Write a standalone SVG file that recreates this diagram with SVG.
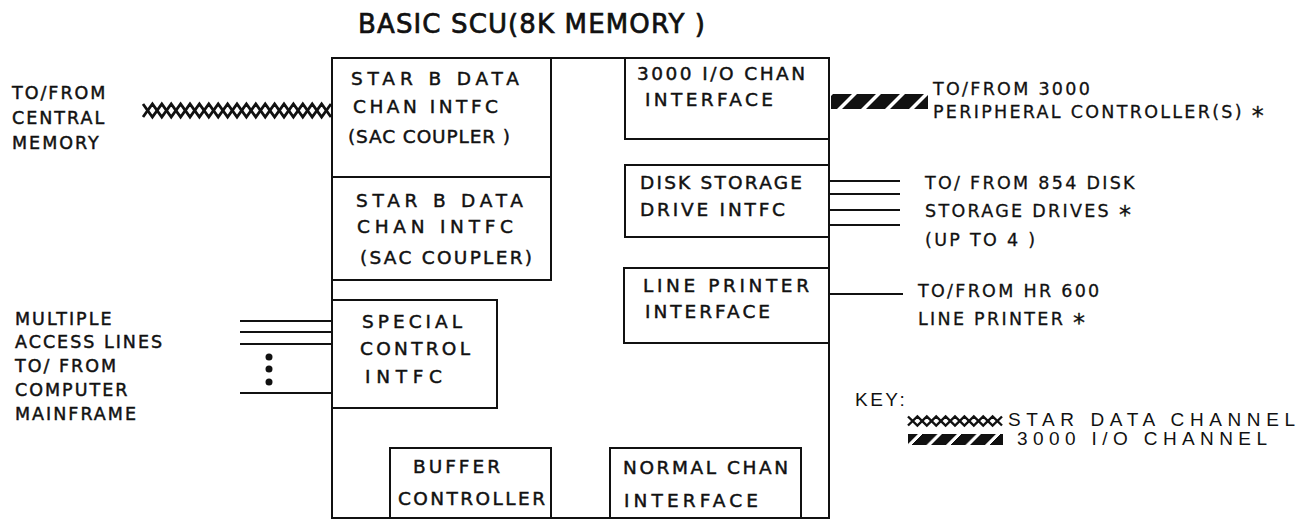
<svg xmlns="http://www.w3.org/2000/svg" width="1309" height="523" viewBox="0 0 1309 523">
<style>
  .box{fill:none;stroke:#111;stroke-width:2}
  .t{font-family:"DejaVu Sans","Liberation Sans",sans-serif;font-size:18.5px;fill:#111;stroke:#111;stroke-width:0.45}
  .ttl{font-size:26px;stroke-width:0.7}
  .lbl{font-family:"DejaVu Sans","Liberation Sans",sans-serif;font-size:17.5px;fill:#111;stroke:#111;stroke-width:0.45;letter-spacing:2px}
  .rl{font-family:"DejaVu Sans","Liberation Sans",sans-serif;font-size:17.5px;fill:#111;stroke:#111;stroke-width:0.3;letter-spacing:2.3px}
  .key{font-family:"Liberation Sans","DejaVu Sans",sans-serif;font-size:19px;fill:#111}
  .ln{stroke:#111;stroke-width:2;fill:none}
  .xh{stroke:#111;stroke-width:2.8;fill:none;stroke-linejoin:miter}
  .ast{font-size:24px}
</style>
<defs>
  <pattern id="hatchA" width="24" height="60" patternUnits="userSpaceOnUse" patternTransform="translate(831 0) skewX(-45)">
    <rect x="0" y="0" width="19" height="60" fill="#111"/>
  </pattern>
  <pattern id="hatchB" width="19.5" height="60" patternUnits="userSpaceOnUse" patternTransform="translate(908 0) skewX(-45)">
    <rect x="0" y="0" width="15" height="60" fill="#111"/>
  </pattern>
</defs>

<text class="t ttl" x="358" y="33" textLength="347" lengthAdjust="spacing">BASIC SCU(8K MEMORY )</text>

<g id="scu">
  <rect class="box" x="332" y="58" width="497" height="460"/>
</g>

<g id="starb1">
  <rect class="box" x="332" y="58" width="219" height="119"/>
  <text class="t" x="351" y="85" textLength="168" lengthAdjust="spacing">STAR B DATA</text>
  <text class="t" x="353" y="113" textLength="145" lengthAdjust="spacing">CHAN INTFC</text>
  <text class="t" x="348" y="143" textLength="162" lengthAdjust="spacing">(SAC COUPLER )</text>
</g>

<g id="starb2">
  <rect class="box" x="332" y="177" width="219" height="103"/>
  <text class="t" x="356" y="207" textLength="167" lengthAdjust="spacing">STAR B DATA</text>
  <text class="t" x="357" y="233" textLength="156" lengthAdjust="spacing">CHAN INTFC</text>
  <text class="t" x="360" y="264" textLength="172" lengthAdjust="spacing">(SAC COUPLER)</text>
</g>

<g id="io3000">
  <rect class="box" x="625" y="58" width="204" height="81"/>
  <text class="t" x="637" y="80" textLength="168" lengthAdjust="spacing">3000 I/O CHAN</text>
  <text class="t" x="645" y="106" textLength="128" lengthAdjust="spacing">INTERFACE</text>
</g>

<g id="disk">
  <rect class="box" x="625" y="165" width="204" height="72"/>
  <text class="t" x="640" y="189" textLength="162" lengthAdjust="spacing">DISK STORAGE</text>
  <text class="t" x="640" y="216" textLength="145" lengthAdjust="spacing">DRIVE INTFC</text>
</g>

<g id="printer">
  <rect class="box" x="624" y="268" width="205" height="75"/>
  <text class="t" x="643" y="292" textLength="166" lengthAdjust="spacing">LINE PRINTER</text>
  <text class="t" x="645" y="318" textLength="125" lengthAdjust="spacing">INTERFACE</text>
</g>

<g id="special">
  <rect class="box" x="332" y="300" width="165" height="108"/>
  <text class="t" x="362" y="328" textLength="100" lengthAdjust="spacing">SPECIAL</text>
  <text class="t" x="360" y="355" textLength="110" lengthAdjust="spacing">CONTROL</text>
  <text class="t" x="365" y="383" textLength="77" lengthAdjust="spacing">INTFC</text>
</g>

<g id="buffer">
  <rect class="box" x="390" y="448" width="161" height="70"/>
  <text class="t" x="413" y="473" textLength="87" lengthAdjust="spacing">BUFFER</text>
  <text class="t" x="398" y="505" textLength="147" lengthAdjust="spacing">CONTROLLER</text>
</g>

<g id="normal">
  <rect class="box" x="610" y="448" width="191" height="70"/>
  <text class="t" x="623" y="474" textLength="165" lengthAdjust="spacing">NORMAL CHAN</text>
  <text class="t" x="624" y="507" textLength="134" lengthAdjust="spacing">INTERFACE</text>
</g>

<g id="central-memory">
  <text class="lbl" x="12" y="99">TO/FROM</text>
  <text class="lbl" x="12" y="124">CENTRAL</text>
  <text class="lbl" x="12" y="149">MEMORY</text>
</g>

<g id="mainframe">
  <text class="lbl" x="15" y="325">MULTIPLE</text>
  <text class="lbl" x="15" y="348">ACCESS LINES</text>
  <text class="lbl" x="15" y="372">TO/ FROM</text>
  <text class="lbl" x="15" y="396">COMPUTER</text>
  <text class="lbl" x="15" y="420">MAINFRAME</text>
</g>

<g id="peripheral">
  <text class="rl" x="933" y="95">TO/FROM 3000</text>
  <text class="rl" x="933" y="118">PERIPHERAL CONTROLLER(S) <tspan class="ast" dy="6">*</tspan></text>
</g>

<g id="disk-drives">
  <text class="rl" x="925" y="189">TO/ FROM 854 DISK</text>
  <text class="rl" x="925" y="217">STORAGE DRIVES <tspan class="ast" dy="6">*</tspan></text>
  <text class="rl" x="925" y="246">(UP TO 4 )</text>
</g>

<g id="line-printer">
  <text class="rl" x="918" y="297">TO/FROM HR 600</text>
  <text class="rl" x="918" y="325">LINE PRINTER <tspan class="ast" dy="6">*</tspan></text>
</g>

<g id="connectors">
  <polyline class="xh" points="143,104 152.4,117 161.8,104 171.2,117 180.6,104 190,117 199.4,104 208.8,117 218.2,104 227.6,117 237,104 246.4,117 255.8,104 265.2,117 274.6,104 284,117 293.4,104 302.8,117 312.2,104 321.6,117 331,104"/>
  <polyline class="xh" points="143,117 152.4,104 161.8,117 171.2,104 180.6,117 190,104 199.4,117 208.8,104 218.2,117 227.6,104 237,117 246.4,104 255.8,117 265.2,104 274.6,117 284,104 293.4,117 302.8,104 312.2,117 321.6,104 331,117"/>
  <rect x="831" y="94" width="97" height="15" fill="url(#hatchA)"/>
  <line class="ln" x1="829" y1="181" x2="900" y2="181"/>
  <line class="ln" x1="829" y1="194" x2="900" y2="194"/>
  <line class="ln" x1="829" y1="210" x2="900" y2="210"/>
  <line class="ln" x1="829" y1="225" x2="900" y2="225"/>
  <line class="ln" x1="829" y1="294" x2="903" y2="294"/>
  <line class="ln" x1="240" y1="321" x2="332" y2="321"/>
  <line class="ln" x1="240" y1="332" x2="332" y2="332"/>
  <line class="ln" x1="240" y1="344" x2="332" y2="344"/>
  <line class="ln" x1="240" y1="393" x2="332" y2="393"/>
  <circle cx="269" cy="357" r="3.5" fill="#111"/>
  <circle cx="269" cy="369" r="3.5" fill="#111"/>
  <circle cx="269" cy="382" r="3.5" fill="#111"/>
</g>

<g id="key">
  <text class="key" x="855" y="406" letter-spacing="2.5">KEY:</text>
  <polyline class="xh" style="stroke-width:2.4" points="908,416.5 917.4,425.5 926.8,416.5 936.2,425.5 945.6,416.5 955,425.5 964.4,416.5 973.8,425.5 983.2,416.5 992.6,425.5 1002,416.5"/>
  <polyline class="xh" style="stroke-width:2.4" points="908,425.5 917.4,416.5 926.8,425.5 936.2,416.5 945.6,425.5 955,416.5 964.4,425.5 973.8,416.5 983.2,425.5 992.6,416.5 1002,425.5"/>
  <text class="key" x="1008" y="426" textLength="287" lengthAdjust="spacing">STAR DATA CHANNEL</text>
  <rect x="908" y="434" width="95" height="11" fill="url(#hatchB)"/>
  <text class="key" x="1017" y="445" textLength="250" lengthAdjust="spacing">3000 I/O CHANNEL</text>
</g>
</svg>
